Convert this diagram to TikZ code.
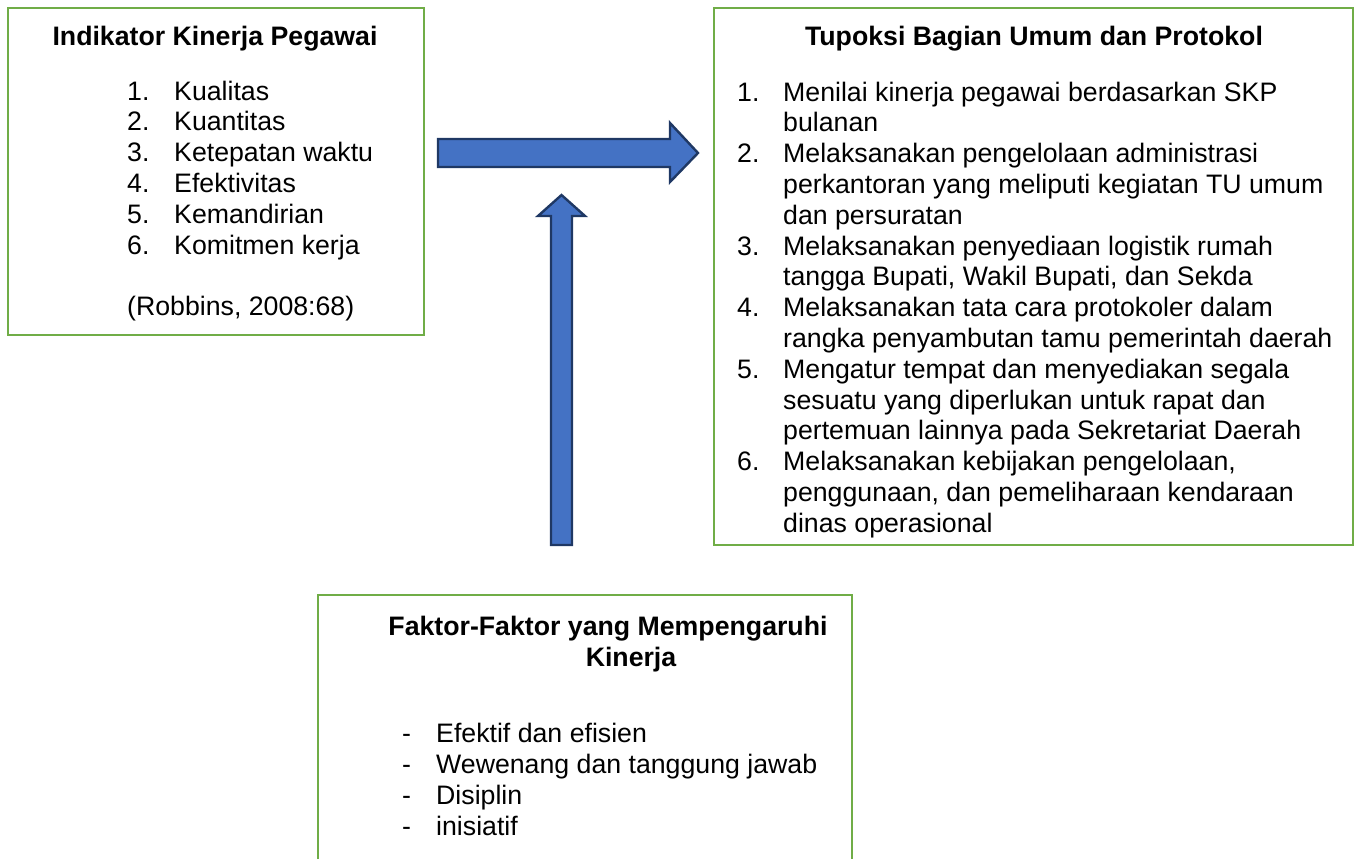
\documentclass[tikz,border=0pt]{standalone}
\usepackage{fontspec}
\setmainfont{Liberation Sans}
\begin{document}
\begin{tikzpicture}[x=1pt,y=-1pt,
  box/.style={draw=boxgreen,line width=2.8pt},
  blockarrow/.style={fill=arrowblue,draw=arrowdark,line width=2.4pt,line join=miter},
  txt/.style={anchor=base west,inner sep=0pt,font=\fontsize{26.7}{31}\selectfont},
  ttl/.style={anchor=base,inner sep=0pt,font=\fontsize{26.7}{31}\selectfont\bfseries}]
\definecolor{boxgreen}{HTML}{70AD47}
\definecolor{arrowblue}{HTML}{4472C4}
\definecolor{arrowdark}{HTML}{1F3864}
\useasboundingbox (0,0) rectangle (1359,859);
% boxes
\draw[box] (8,8) rectangle (424,335);
\draw[box] (714,8) rectangle (1353,545);
\draw[box] (318,859) -- (318,595) -- (852,595) -- (852,859);
% arrows
\draw[blockarrow] (438,139) -- (670,139) -- (670,123) -- (698,153) -- (670,182) -- (670,167) -- (438,167) -- cycle;
\draw[blockarrow] (551,545) -- (551,216) -- (538,216) -- (561.5,195) -- (585,216) -- (572,216) -- (572,545) -- cycle;
% left box
\node[ttl] (t1) at (215,46) {Indikator Kinerja Pegawai};
\foreach \n/\t [count=\i from 0] in {1/Kualitas,2/Kuantitas,3/Ketepatan waktu,4/Efektivitas,5/Kemandirian,6/Komitmen kerja}{
  \node[txt] (ln\i) at (127,100+30.8*\i) {\n.};
  \node[txt] (lt\i) at (174,100+30.8*\i) {\t};
}
\node[txt] (lref) at (127,315) {(Robbins, 2008:68)};
% right box
\node[ttl] (t2) at (1034,46) {Tupoksi Bagian Umum dan Protokol};
\foreach \n/\r in {1/0,2/2,3/5,4/7,5/9,6/12}{
  \node[txt] (rn\n) at (737,101+30.8*\r) {\n.};
}
\foreach \t [count=\i from 0] in {Menilai kinerja pegawai berdasarkan SKP,bulanan,Melaksanakan pengelolaan administrasi,perkantoran yang meliputi kegiatan TU umum,dan persuratan,Melaksanakan penyediaan logistik rumah,{tangga Bupati, Wakil Bupati, dan Sekda},Melaksanakan tata cara protokoler dalam,rangka penyambutan tamu pemerintah daerah,Mengatur tempat dan menyediakan segala,sesuatu yang diperlukan untuk rapat dan,pertemuan lainnya pada Sekretariat Daerah,{Melaksanakan kebijakan pengelolaan,},{penggunaan, dan pemeliharaan kendaraan},dinas operasional}{
  \node[txt] (rt\i) at (783,101+30.8*\i) {\t};
}
% bottom box
\node[ttl] (t3a) at (608,635) {Faktor-Faktor yang Mempengaruhi};
\node[ttl] (t3b) at (631,666) {Kinerja};
\foreach \t [count=\i from 0] in {Efektif dan efisien,Wewenang dan tanggung jawab,Disiplin,inisiatif}{
  \node[txt] (bd\i) at (402,742+31.2*\i) {-};
  \node[txt] (bt\i) at (436,742+31.2*\i) {\t};
}
\end{tikzpicture}
\end{document}
